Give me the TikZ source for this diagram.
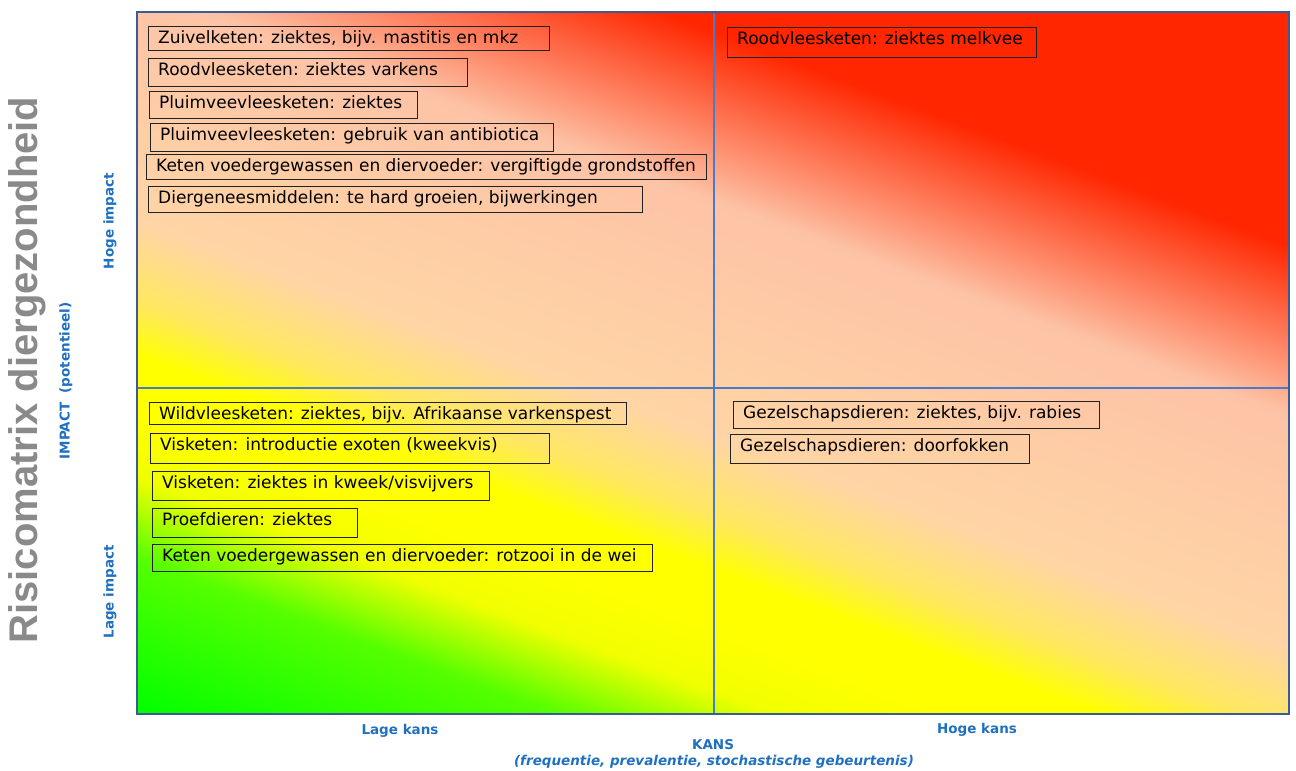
\documentclass[tikz,border=0pt]{standalone}
\usepackage{fontspec}
\newfontfamily\boxfont{DejaVu Sans}
\newfontfamily\axisfont{DejaVu Sans}
\newfontfamily\titlefont{Liberation Sans}

\definecolor{riskgreen}{HTML}{00FF00}
\definecolor{risklime}{HTML}{55FF00}
\definecolor{risklemon}{HTML}{F0FF00}
\definecolor{riskyellow}{HTML}{FFFF00}
\definecolor{riskamber}{HTML}{FFE860}
\definecolor{riskpeachA}{HTML}{FFD5A5}
\definecolor{riskpeachB}{HTML}{FDC3A6}
\definecolor{riskred}{HTML}{FF2600}
\definecolor{frameblue}{HTML}{3B5B97}
\definecolor{gridblue}{HTML}{4A7BC9}
\definecolor{axisblue}{HTML}{2070C0}
\definecolor{titlegray}{HTML}{8A8A8A}
\definecolor{boxline}{HTML}{222222}

% colour ramp from low risk (green) to high risk (red);
% 25bp and 75bp are the two ends of the shaded rectangle
\pgfdeclarehorizontalshading{riskshade}{100bp}{%
  color(0bp)=(riskgreen); color(25bp)=(riskgreen);
  color(31.96bp)=(risklime); color(35.49bp)=(risklemon);
  color(38.31bp)=(riskyellow); color(40.90bp)=(riskyellow);
  color(43.25bp)=(riskamber); color(46.78bp)=(riskpeachA);
  color(57.13bp)=(riskpeachB); color(64.65bp)=(riskred);
  color(75bp)=(riskred); color(100bp)=(riskred)}

\tikzset{
  riskbox/.style={draw=boxline, line width=1.1pt, inner sep=0pt,
    anchor=north west, fill=none},
  risktext/.style={anchor=base west, inner sep=0pt, text=black,
    font=\boxfont\fontsize{17}{20}\selectfont},
  axislabel/.style={text=axisblue, inner sep=0pt,
    font=\axisfont\bfseries\fontsize{13.5}{16}\selectfont},
  titlelabel/.style={text=titlegray, inner sep=0pt,
    font=\titlefont\bfseries\fontsize{40}{44}\selectfont},
}

\newcommand\riskitem[6]{%
  \node[riskbox, minimum width=#4, minimum height=#5] (#1) at (#2,#3) {};
  \node[risktext] (#1t) at ([xshift=10pt,yshift=-17.5pt]#1.north west) {#6};
}

\begin{document}
\begin{tikzpicture}[x=1pt,y=-1pt]
\useasboundingbox (0,0) rectangle (1296,771);

% matrix corners and dividers
\coordinate (nw) at (137,12);
\coordinate (se) at (1289,714);
\coordinate (midtop) at (714,12);
\coordinate (midbot) at (714,714);
\coordinate (midleft) at (137,388);
\coordinate (midright) at (1289,388);

% background ramp, tilted along the risk direction
\begin{scope}
  \clip (nw) rectangle (se);
  \begin{scope}[transform canvas={rotate=69.6}]
    \shade[shading=riskshade] (-623,-3000) rectangle (440,3000);
  \end{scope}
\end{scope}

\draw[gridblue, line width=2pt] (midtop) -- (midbot);
\draw[gridblue, line width=2pt] (midleft) -- (midright);
\draw[frameblue, line width=2.6pt] (nw) rectangle (se);

% high impact, low probability
\riskitem{b1}{148}{26}{401}{24}{Zuivelketen: ziektes, bijv. mastitis en mkz}
\riskitem{b2}{148}{58}{319}{28}{Roodvleesketen: ziektes varkens}
\riskitem{b3}{149}{91}{268}{27}{Pluimveevleesketen: ziektes}
\riskitem{b4}{150}{123}{403}{28}{Pluimveevleesketen: gebruik van antibiotica}
\riskitem{b5}{146}{154}{560}{25}{Keten voedergewassen en diervoeder: vergiftigde grondstoffen}
\riskitem{b6}{148}{186}{494}{26}{Diergeneesmiddelen: te hard groeien, bijwerkingen}

% high impact, high probability
\riskitem{b7}{727}{27}{309}{30}{Roodvleesketen: ziektes melkvee}

% low impact, low probability
\riskitem{b8}{149}{402}{477}{22}{Wildvleesketen: ziektes, bijv. Afrikaanse varkenspest}
\riskitem{b9}{150}{433}{399}{30}{Visketen: introductie exoten (kweekvis)}
\riskitem{b10}{152}{471}{337}{29}{Visketen: ziektes in kweek/visvijvers}
\riskitem{b11}{152}{508}{205}{29}{Proefdieren: ziektes}
\riskitem{b12}{152}{544}{500}{27}{Keten voedergewassen en diervoeder: rotzooi in de wei}

% low impact, high probability
\riskitem{b13}{733}{401}{366}{27}{Gezelschapsdieren: ziektes, bijv. rabies}
\riskitem{b14}{730}{434}{299}{29}{Gezelschapsdieren: doorfokken}

% axis titles
\node[titlelabel, rotate=90] (title) at (27,370) {Risicomatrix diergezondheid};
\node[axislabel, rotate=90] (impact) at (66,381) {IMPACT\ \ (potentieel)};
\node[axislabel, rotate=90] (hoogimp) at (110,221) {Hoge impact};
\node[axislabel, rotate=90] (laagimp) at (110,592) {Lage impact};
\node[axislabel] (laagkans) at (400,731) {Lage kans};
\node[axislabel] (hoogkans) at (977,730) {Hoge kans};
\node[axislabel] (kans) at (713,745) {KANS};
\node[axislabel, font=\axisfont\bfseries\itshape\fontsize{13.5}{16}\selectfont] (kansnote) at (714,762) {(frequentie, prevalentie, stochastische gebeurtenis)};
\end{tikzpicture}
\end{document}
